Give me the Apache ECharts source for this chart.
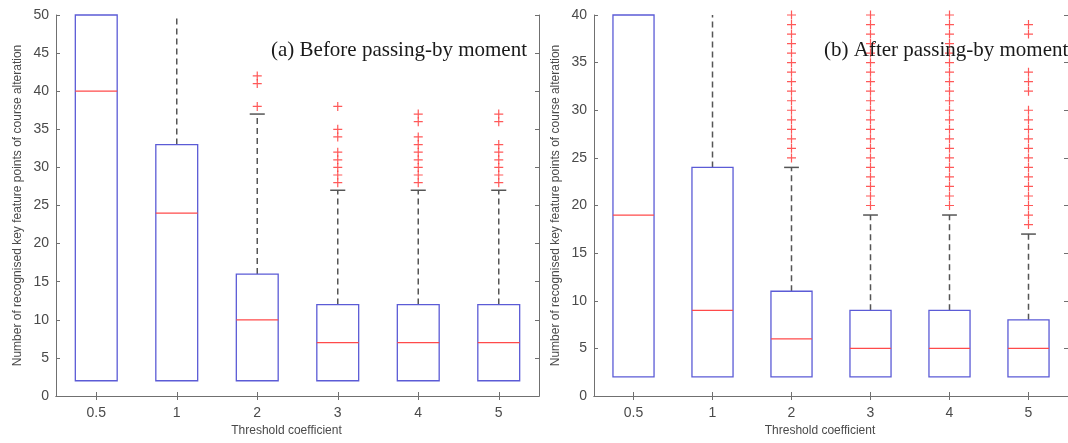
<!DOCTYPE html>
<html>
<head>
<meta charset="utf-8">
<script src="https://cdn.jsdelivr.net/npm/echarts@6/dist/echarts.min.js"></script>
<style>
  html, body { margin: 0; padding: 0; background: #ffffff; }
  #chart { width: 1068px; height: 443px; }
</style>
</head>
<body>
<div id="chart"></div>
<script>
// threshold coefficients on the x axis
const categories = ["0.5", "1", "2", "3", "4", "5"];

// box stats per coefficient: [lower whisker, q1, median, q3, upper whisker]
const beforeStats = [
  [2, 2, 40, 50, 50],
  [2, 2, 24, 33, 50],
  [2, 2, 10, 16, 37],
  [2, 2, 7, 12, 27],
  [2, 2, 7, 12, 27],
  [2, 2, 7, 12, 27]
];
const afterStats = [
  [2, 2, 19, 40, 40],
  [2, 2, 9, 24, 40],
  [2, 2, 6, 11, 24],
  [2, 2, 5, 9, 19],
  [2, 2, 5, 9, 19],
  [2, 2, 5, 8, 17]
];

// outliers ("+" marks) per coefficient
const beforeOutliers = [
  [],
  [],
  [38, 41, 42],
  [28, 29, 30, 31, 32, 34, 35, 38],
  [28, 29, 30, 31, 32, 33, 34, 36, 37],
  [28, 29, 30, 31, 32, 33, 36, 37]
];
const afterOutliers = [
  [],
  [],
  [25, 26, 27, 28, 29, 30, 31, 32, 33, 34, 35, 36, 37, 38, 39, 40],
  [20, 21, 22, 23, 24, 25, 26, 27, 28, 29, 30, 31, 32, 33, 34, 35, 36, 37, 38, 39, 40],
  [20, 21, 22, 23, 24, 25, 26, 27, 28, 29, 30, 31, 32, 33, 34, 35, 36, 37, 38, 39, 40],
  [18, 19, 20, 21, 22, 23, 24, 25, 26, 27, 28, 29, 30, 32, 33, 34, 38, 39]
];

const yMaxBefore = 50;
const yMaxAfter = 40;
const yInterval = 5;

const titleBefore = "(a) Before passing-by moment";
const titleAfter = "(b) After passing-by moment";
const xName = "Threshold coefficient";
const yName = "Number of recognised key feature points of course alteration";

const axisColor = "#707070";
const labelColor = "#4a4a4a";
const boxColor = "#5b5bd6";
const medianColor = "#ff4a4a";
const whiskerColor = "#555555";
const outlierColor = "#ff3030";

const renderBox = (params, api) => {
  const x = api.value(0);
  const low = api.coord([x, api.value(1)]);
  const q1 = api.coord([x, api.value(2)]);
  const med = api.coord([x, api.value(3)]);
  const q3 = api.coord([x, api.value(4)]);
  const high = api.coord([x, api.value(5)]);
  const bw = api.size([1, 0])[0] * 0.52;
  const cap = bw * 0.36;
  const cx = q1[0];
  const top = params.coordSys.y;
  const whisker = { stroke: whiskerColor, lineWidth: 1.5, lineDash: [6, 4] };
  const capStyle = { stroke: whiskerColor, lineWidth: 1.5 };
  const children = [];
  if (high[1] < q3[1]) {
    children.push({ type: "line", shape: { x1: cx, y1: q3[1], x2: cx, y2: high[1] }, style: whisker });
    // whiskers running off the top of the axes have no visible cap
    if (high[1] > top + 1) {
      children.push({ type: "line", shape: { x1: cx - cap / 2, y1: high[1], x2: cx + cap / 2, y2: high[1] }, style: capStyle });
    }
  }
  if (low[1] > q1[1]) {
    children.push({ type: "line", shape: { x1: cx, y1: q1[1], x2: cx, y2: low[1] }, style: whisker });
    children.push({ type: "line", shape: { x1: cx - cap / 2, y1: low[1], x2: cx + cap / 2, y2: low[1] }, style: capStyle });
  }
  children.push({
    type: "rect",
    shape: { x: cx - bw / 2, y: q3[1], width: bw, height: q1[1] - q3[1] },
    style: { fill: "none", stroke: boxColor, lineWidth: 1.3 }
  });
  children.push({
    type: "line",
    shape: { x1: cx - bw / 2, y1: med[1], x2: cx + bw / 2, y2: med[1] },
    style: { stroke: medianColor, lineWidth: 1.3 }
  });
  return { type: "group", children: children };
};

const toOutlierPoints = (list) => {
  let pts = [];
  list.forEach((vals, i) => vals.forEach((v) => pts.push([i, v])));
  return pts;
};

const plusSymbol = "path://M0,4L8,4M4,0L4,8";

const makeXAxis = (gridIndex, bottom) => ({
  type: "category",
  gridIndex: gridIndex,
  data: categories,
  position: bottom ? "bottom" : "top",
  boundaryGap: true,
  axisLine: { show: true, lineStyle: { color: axisColor, width: 1 } },
  axisTick: { show: true, inside: true, length: 4, alignWithLabel: true, lineStyle: { color: axisColor } },
  axisLabel: { show: bottom, color: labelColor, fontSize: 14, margin: 10, fontFamily: "Liberation Sans" },
  name: bottom ? xName : "",
  nameLocation: "middle",
  nameGap: 29,
  nameTextStyle: { color: labelColor, fontSize: 12, fontFamily: "Liberation Sans", padding: [0, 22, 0, 0] },
  splitLine: { show: false }
});

const makeYAxis = (gridIndex, max, left) => ({
  type: "value",
  gridIndex: gridIndex,
  position: left ? "left" : "right",
  min: 0,
  max: max,
  interval: yInterval,
  axisLine: { show: true, lineStyle: { color: axisColor, width: 1 } },
  axisTick: { show: true, inside: true, length: 4, lineStyle: { color: axisColor } },
  axisLabel: { show: left, color: labelColor, fontSize: 14, margin: 7, fontFamily: "Liberation Sans" },
  name: left ? yName : "",
  nameLocation: "middle",
  nameGap: 32,
  nameTextStyle: { color: labelColor, fontSize: 12, fontFamily: "Liberation Sans" },
  splitLine: { show: false }
});

const chart = echarts.init(document.getElementById("chart"), null, { renderer: "canvas" });

const option = {
  backgroundColor: "#ffffff",
  animation: false,
  grid: [
    { left: 56, top: 15, width: 483, height: 381 },
    { left: 594, top: 15, width: 483, height: 381 }
  ],
  xAxis: [makeXAxis(0, true), makeXAxis(0, false), makeXAxis(1, true), makeXAxis(1, false)],
  yAxis: [makeYAxis(0, yMaxBefore, true), makeYAxis(0, yMaxBefore, false), makeYAxis(1, yMaxAfter, true), makeYAxis(1, yMaxAfter, false)],
  series: [
    {
      type: "custom",
      xAxisIndex: 0,
      yAxisIndex: 0,
      renderItem: renderBox,
      encode: { x: 0, y: [1, 2, 3, 4, 5] },
      data: beforeStats.map((s, i) => [i].concat(s)),
      z: 2
    },
    {
      type: "scatter",
      xAxisIndex: 0,
      yAxisIndex: 0,
      symbol: plusSymbol,
      symbolSize: 9,
      itemStyle: { color: "none", borderColor: outlierColor, borderWidth: 1.2 },
      data: toOutlierPoints(beforeOutliers),
      z: 3
    },
    {
      type: "custom",
      xAxisIndex: 2,
      yAxisIndex: 2,
      renderItem: renderBox,
      encode: { x: 0, y: [1, 2, 3, 4, 5] },
      data: afterStats.map((s, i) => [i].concat(s)),
      z: 2
    },
    {
      type: "scatter",
      xAxisIndex: 2,
      yAxisIndex: 2,
      symbol: plusSymbol,
      symbolSize: 9,
      itemStyle: { color: "none", borderColor: outlierColor, borderWidth: 1.2 },
      data: toOutlierPoints(afterOutliers),
      z: 3
    }
  ],
  graphic: [
    {
      type: "text",
      right: 1068 - 527,
      top: 40,
      z: 10,
      style: { text: titleBefore, fill: "#1a1a1a", font: "21px 'Liberation Serif'" }
    },
    {
      type: "text",
      left: 824,
      top: 40,
      z: 10,
      style: { text: titleAfter, fill: "#1a1a1a", font: "21px 'Liberation Serif'" }
    }
  ]
};

chart.setOption(option);
</script>
</body>
</html>
